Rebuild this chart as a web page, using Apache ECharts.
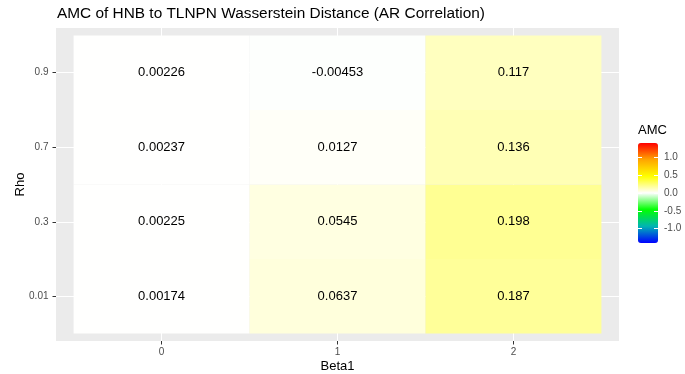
<!DOCTYPE html>
<html>
<head>
<meta charset="utf-8">
<script src="https://cdn.jsdelivr.net/npm/echarts@6/dist/echarts.min.js"></script>
<style>
  html, body { margin: 0; padding: 0; background: #fff; }
  #chart { width: 685px; height: 374px; }
</style>
</head>
<body>
<div id="chart"></div>
<script>
// Categories (Beta1 along x, Rho along y, bottom to top)
const beta1Labels = ['0', '1', '2'];
const rhoLabels = ['0.01', '0.3', '0.7', '0.9'];

// AMC values per Rho row, ordered by Beta1 = 0, 1, 2
const amcRho001 = [0.00174, 0.0637, 0.187];
const amcRho03 = [0.00225, 0.0545, 0.198];
const amcRho07 = [0.00237, 0.0127, 0.136];
const amcRho09 = [0.00226, -0.00453, 0.117];

// Colour bar ticks
const legendTicks = [-1.0, -0.5, 0.0, 0.5, 1.0];

const rows = [amcRho001, amcRho03, amcRho07, amcRho09];
const cells = [];
rows.forEach(function (row, yi) {
  row.forEach(function (v, xi) {
    cells.push([xi, yi, v]);
  });
});

const FONT = "'Liberation Sans', Arial, Helvetica, sans-serif";
const chart = echarts.init(document.getElementById('chart'), null, { renderer: 'canvas' });

const hiddenLine = { show: true, onZero: false, lineStyle: { color: 'rgba(0,0,0,0)' } };

chart.setOption({
  backgroundColor: '#ffffff',
  animation: false,
  title: {
    text: 'AMC of HNB to TLNPN Wasserstein Distance (AR Correlation)',
    left: 52,
    top: 1,
    textStyle: { fontFamily: FONT, fontSize: 15.4, fontWeight: 'normal', color: '#000' }
  },
  grid: [
    {
      left: 56, top: 28, width: 563, height: 313,
      show: true, backgroundColor: '#EBEBEB', borderWidth: 0,
      containLabel: false, outerBoundsMode: 'none'
    },
    {
      left: 638, top: 143, width: 20, height: 100,
      show: false, containLabel: false, outerBoundsMode: 'none'
    }
  ],
  xAxis: [
    {
      type: 'value', gridIndex: 0, min: -0.6, max: 2.6,
      name: 'Beta1', nameLocation: 'middle', nameGap: 19, nameMoveOverlap: false,
      nameTextStyle: { fontFamily: FONT, fontSize: 13, color: '#000' },
      axisLine: hiddenLine,
      axisTick: { show: true, length: 3.5, customValues: [0, 1, 2], lineStyle: { color: '#333333' } },
      axisLabel: {
        customValues: [0, 1, 2], margin: 6.5,
        fontFamily: FONT, fontSize: 10, color: '#4D4D4D',
        formatter: function (v) { return beta1Labels[Math.round(v)]; }
      },
      splitLine: { show: true, lineStyle: { color: '#ffffff', width: 1 } }
    },
    {
      type: 'value', gridIndex: 1, min: 0, max: 1, show: false
    }
  ],
  yAxis: [
    {
      type: 'value', gridIndex: 0, min: -0.6, max: 3.6,
      name: 'Rho', nameLocation: 'middle', nameGap: 29, nameMoveOverlap: false,
      nameTextStyle: { fontFamily: FONT, fontSize: 13, color: '#000' },
      axisLine: hiddenLine,
      axisTick: { show: true, length: 3.5, customValues: [0, 1, 2, 3], lineStyle: { color: '#333333' } },
      axisLabel: {
        customValues: [0, 1, 2, 3], margin: 7.5,
        fontFamily: FONT, fontSize: 10, color: '#4D4D4D',
        formatter: function (v) { return rhoLabels[Math.round(v)]; }
      },
      splitLine: { show: true, lineStyle: { color: '#ffffff', width: 1 } }
    },
    {
      type: 'value', gridIndex: 1, min: -1.4, max: 1.4, position: 'right', zlevel: 1,
      axisLine: hiddenLine,
      axisTick: { show: true, inside: true, length: 4, customValues: legendTicks, lineStyle: { color: '#ffffff', width: 1 } },
      axisLabel: {
        customValues: legendTicks, margin: 6,
        fontFamily: FONT, fontSize: 10, color: '#4D4D4D',
        formatter: function (v) { return v.toFixed(1); }
      },
      splitLine: { show: false }
    },
    {
      type: 'value', gridIndex: 1, min: -1.4, max: 1.4, position: 'left', zlevel: 1,
      axisLine: hiddenLine,
      axisTick: { show: true, inside: true, length: 4, customValues: legendTicks, lineStyle: { color: '#ffffff', width: 1 } },
      axisLabel: { show: false },
      splitLine: { show: false }
    }
  ],
  visualMap: {
    type: 'continuous',
    seriesIndex: 0,
    dimension: 2,
    min: -1.4,
    max: 1.4,
    calculable: false,
    hoverLink: false,
    left: 638,
    top: 143,
    padding: 0,
    itemWidth: 20,
    itemHeight: 100,
    text: null,
    inRange: {
      color: ['#0000FF', '#00B4B4', '#00FF00', '#FFFFFF', '#FFFF00', '#FFA500', '#FF0000']
    }
  },
  graphic: [
    {
      type: 'text', left: 638, top: 124,
      style: { text: 'AMC', fontFamily: FONT, fontSize: 13, fill: '#000' }
    }
  ],
  series: [
    {
      type: 'custom',
      coordinateSystem: 'cartesian2d',
      xAxisIndex: 0,
      yAxisIndex: 0,
      data: cells,
      renderItem: function (params, api) {
        const x = api.value(0);
        const y = api.value(1);
        const v = api.value(2);
        const p0 = api.coord([x - 0.5, y + 0.5]);
        const p1 = api.coord([x + 0.5, y - 0.5]);
        const c = api.coord([x, y]);
        return {
          type: 'group',
          children: [
            {
              type: 'rect',
              shape: { x: p0[0], y: p0[1], width: p1[0] - p0[0], height: p1[1] - p0[1] },
              style: { fill: api.visual('color') }
            },
            {
              type: 'text',
              x: c[0], y: c[1],
              style: {
                text: String(v),
                align: 'center', verticalAlign: 'middle',
                fontFamily: FONT, fontSize: 13, fill: '#000'
              }
            }
          ]
        };
      }
    }
  ]
});
</script>
</body>
</html>
